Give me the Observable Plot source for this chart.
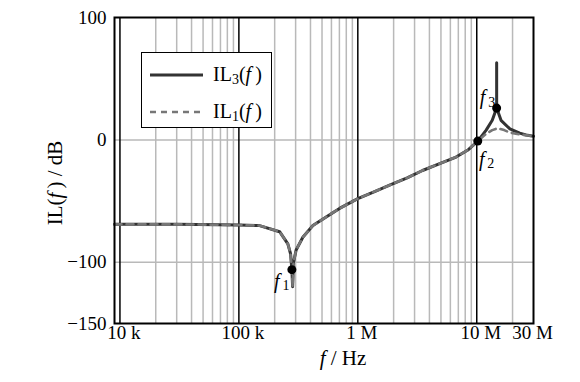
<!DOCTYPE html>
<html>
<head>
<meta charset="utf-8">
<script src="https://cdn.jsdelivr.net/npm/d3@7"></script>
<script src="https://cdn.jsdelivr.net/npm/@observablehq/plot@0.6"></script>
<style>
  body { margin: 0; background: #fff; }
  #wrap { position: relative; width: 580px; height: 382px; font-family: "Liberation Serif", "Times New Roman", serif; }
  #legend { position: absolute; left: 141px; top: 52px; width: 131px; height: 76px; background: #fff; border: 1.5px solid #000; box-sizing: border-box; }
  #legend .row { position: absolute; left: 8px; height: 22px; display: flex; align-items: center; font-size: 20px; }
  #legend sub { font-size: 14px; vertical-align: -3px; }
</style>
</head>
<body>
<div id="wrap"></div>
<script>
// IL3(f): solid curve
const freq3 = [9e3, 3e4, 1e5, 1.49e5, 2.2e5, 2.58e5, 2.72e5, 2.79e5, 2.83e5, 2.88e5, 3.03e5, 3.45e5, 4.19e5, 5.42e5, 7.02e5, 1e6, 1.4e6, 1.85e6, 2.6e6, 3.5e6, 5e6, 6.7e6, 8.5e6, 1.02e7, 1.2e7, 1.35e7, 1.47e7, 1.47e7, 1.47e7, 1.6e7, 1.9e7, 2.3e7, 2.6e7, 3e7];
const il3   = [-69, -69, -69.5, -70, -75, -85, -93, -106, -120, -100, -90, -79.5, -70, -63, -56, -48, -42, -37, -31, -25, -19, -14, -8, -1, 8, 16, 26, 63, 26, 16, 9, 5.5, 4, 3];
// IL1(f): dashed curve
const freq1 = [9e3, 3e4, 1e5, 1.49e5, 2.2e5, 2.58e5, 2.72e5, 2.79e5, 2.83e5, 2.88e5, 3.03e5, 3.45e5, 4.19e5, 5.42e5, 7.02e5, 1e6, 1.4e6, 1.85e6, 2.6e6, 3.5e6, 5e6, 6.7e6, 8.5e6, 1.02e7, 1.2e7, 1.35e7, 1.5e7, 1.7e7, 1.9e7, 2.3e7, 3e7];
const il1   = [-69, -69, -69.5, -70, -75, -85, -93, -106, -120, -100, -90, -79.5, -70, -63, -56, -48, -42, -37, -31, -25, -19, -14, -8, -1, 5, 8, 9.5, 8, 6, 4.5, 3];
// marked points f1, f2, f3
const markNames = ["1", "2", "3"];
const markFreq  = [2.79e5, 1.02e7, 1.47e7];
const markVal   = [-106, -1, 26];
// axes
const xTicks = [1e4, 1e5, 1e6, 1e7, 3e7];
const xTickLabels = ["10 k", "100 k", "1 M", "10 M", "30 M"];
const yTicks = [-150, -100, 0, 100];
const yTickLabels = ["\u2212150", "\u2212100", "0", "100"];
const majorGrid = [1e4, 1e5, 1e6, 1e7];
const minorGrid = [2e4, 3e4, 4e4, 5e4, 6e4, 7e4, 8e4, 9e4, 2e5, 3e5, 4e5, 5e5, 6e5, 7e5, 8e5, 9e5, 2e6, 3e6, 4e6, 5e6, 6e6, 7e6, 8e6, 9e6, 2e7];
const hGrid = [0, -100];

const d3data = freq3.map((f, i) => ({f, v: il3[i]}));
const d1data = freq1.map((f, i) => ({f, v: il1[i]}));
const pts = markNames.map((n, i) => ({n, f: markFreq[i], v: markVal[i]}));
const labelOff = {"1": {fx: -15, fy: 12, sx: -6, sy: 16}, "2": {fx: 4, fy: 18, sx: 13, sy: 22}, "3": {fx: -14, fy: -10, sx: -5, sy: -6}};
const xFmt = (d) => xTickLabels[xTicks.indexOf(d)];

const chart = Plot.plot({
  width: 580, height: 382,
  marginLeft: 114, marginRight: 47, marginTop: 17, marginBottom: 59,
  style: {fontFamily: "'Liberation Serif', 'Times New Roman', serif", fontSize: "19px", color: "#000", background: "transparent"},
  x: {type: "log", domain: [9e3, 3e7], label: null, axis: null},
  y: {domain: [-150, 100], label: null},
  marks: [
    Plot.ruleX(minorGrid, {stroke: "#b9b9b9", strokeWidth: 1.5}),
    Plot.ruleY(hGrid, {stroke: "#b9b9b9", strokeWidth: 1.5}),
    Plot.ruleX(majorGrid, {stroke: "#000", strokeWidth: 1.5}),
    Plot.text(xTicks.slice(0, 4), {x: (d) => d, text: xFmt, frameAnchor: "bottom", lineAnchor: "top", dy: 2, dx: 4, fontSize: 19, fill: "#000"}),
    Plot.text(xTicks.slice(4), {x: (d) => d, text: xFmt, frameAnchor: "bottom", lineAnchor: "top", dy: 2, dx: -1, fontSize: 19, fill: "#000"}),
    Plot.axisY(yTicks, {tickFormat: (d) => yTickLabels[yTicks.indexOf(d)], tickSize: 0, tickPadding: 8, label: null}),
    Plot.line(d3data, {x: "f", y: "v", stroke: "#333", strokeWidth: 3, curve: "linear"}),
    Plot.line(d1data, {x: "f", y: "v", stroke: "#777", strokeWidth: 2.6, strokeDasharray: "7,5", curve: "linear"}),
    Plot.dot(pts, {x: "f", y: "v", r: 4.5, fill: "#000"}),
    ...markNames.map(n => Plot.text(pts.filter(p => p.n === n), {x: "f", y: "v", text: () => "f", dx: labelOff[n].fx, dy: labelOff[n].fy, fontStyle: "italic", fontSize: 20, fill: "#000"})),
    ...markNames.map(n => Plot.text(pts.filter(p => p.n === n), {x: "f", y: "v", text: "n", dx: labelOff[n].sx, dy: labelOff[n].sy, fontSize: 14, fill: "#000"})),
    Plot.frame({stroke: "#000", strokeWidth: 2})
  ]
});

const svg = d3.select(chart);
// y axis label
const yl = svg.append("text").attr("transform", "translate(62,183) rotate(-90)").attr("text-anchor", "middle").attr("font-size", 21).attr("fill", "#000");
yl.append("tspan").text("IL(");
yl.append("tspan").attr("font-style", "italic").text("f\u2009");
yl.append("tspan").text(") / dB");
// x axis label
const xl = svg.append("text").attr("x", 343).attr("y", 365).attr("text-anchor", "middle").attr("font-size", 21).attr("fill", "#000");
xl.append("tspan").attr("font-style", "italic").text("f");
xl.append("tspan").text(" / Hz");

const wrap = document.getElementById("wrap");
wrap.appendChild(chart);

// legend
const legend = document.createElement("div");
legend.id = "legend";
const entries = [
  {sub: "3", dash: null, color: "#333", w: 3, top: 11},
  {sub: "1", dash: "6,5", color: "#777", w: 2.4, top: 48}
];
entries.forEach(e => {
  const row = document.createElement("div");
  row.className = "row";
  row.style.top = (e.top) + "px";
  row.innerHTML = `<svg width="56" height="22"><line x1="0" y1="11" x2="53" y2="11" stroke="${e.color}" stroke-width="${e.w}" ${e.dash ? `stroke-dasharray="${e.dash}"` : ""}/></svg><span style="margin-left:7px">IL<sub>${e.sub}</sub>(<i>f\u2009</i>)</span>`;
  legend.appendChild(row);
});
wrap.appendChild(legend);
</script>
</body>
</html>
